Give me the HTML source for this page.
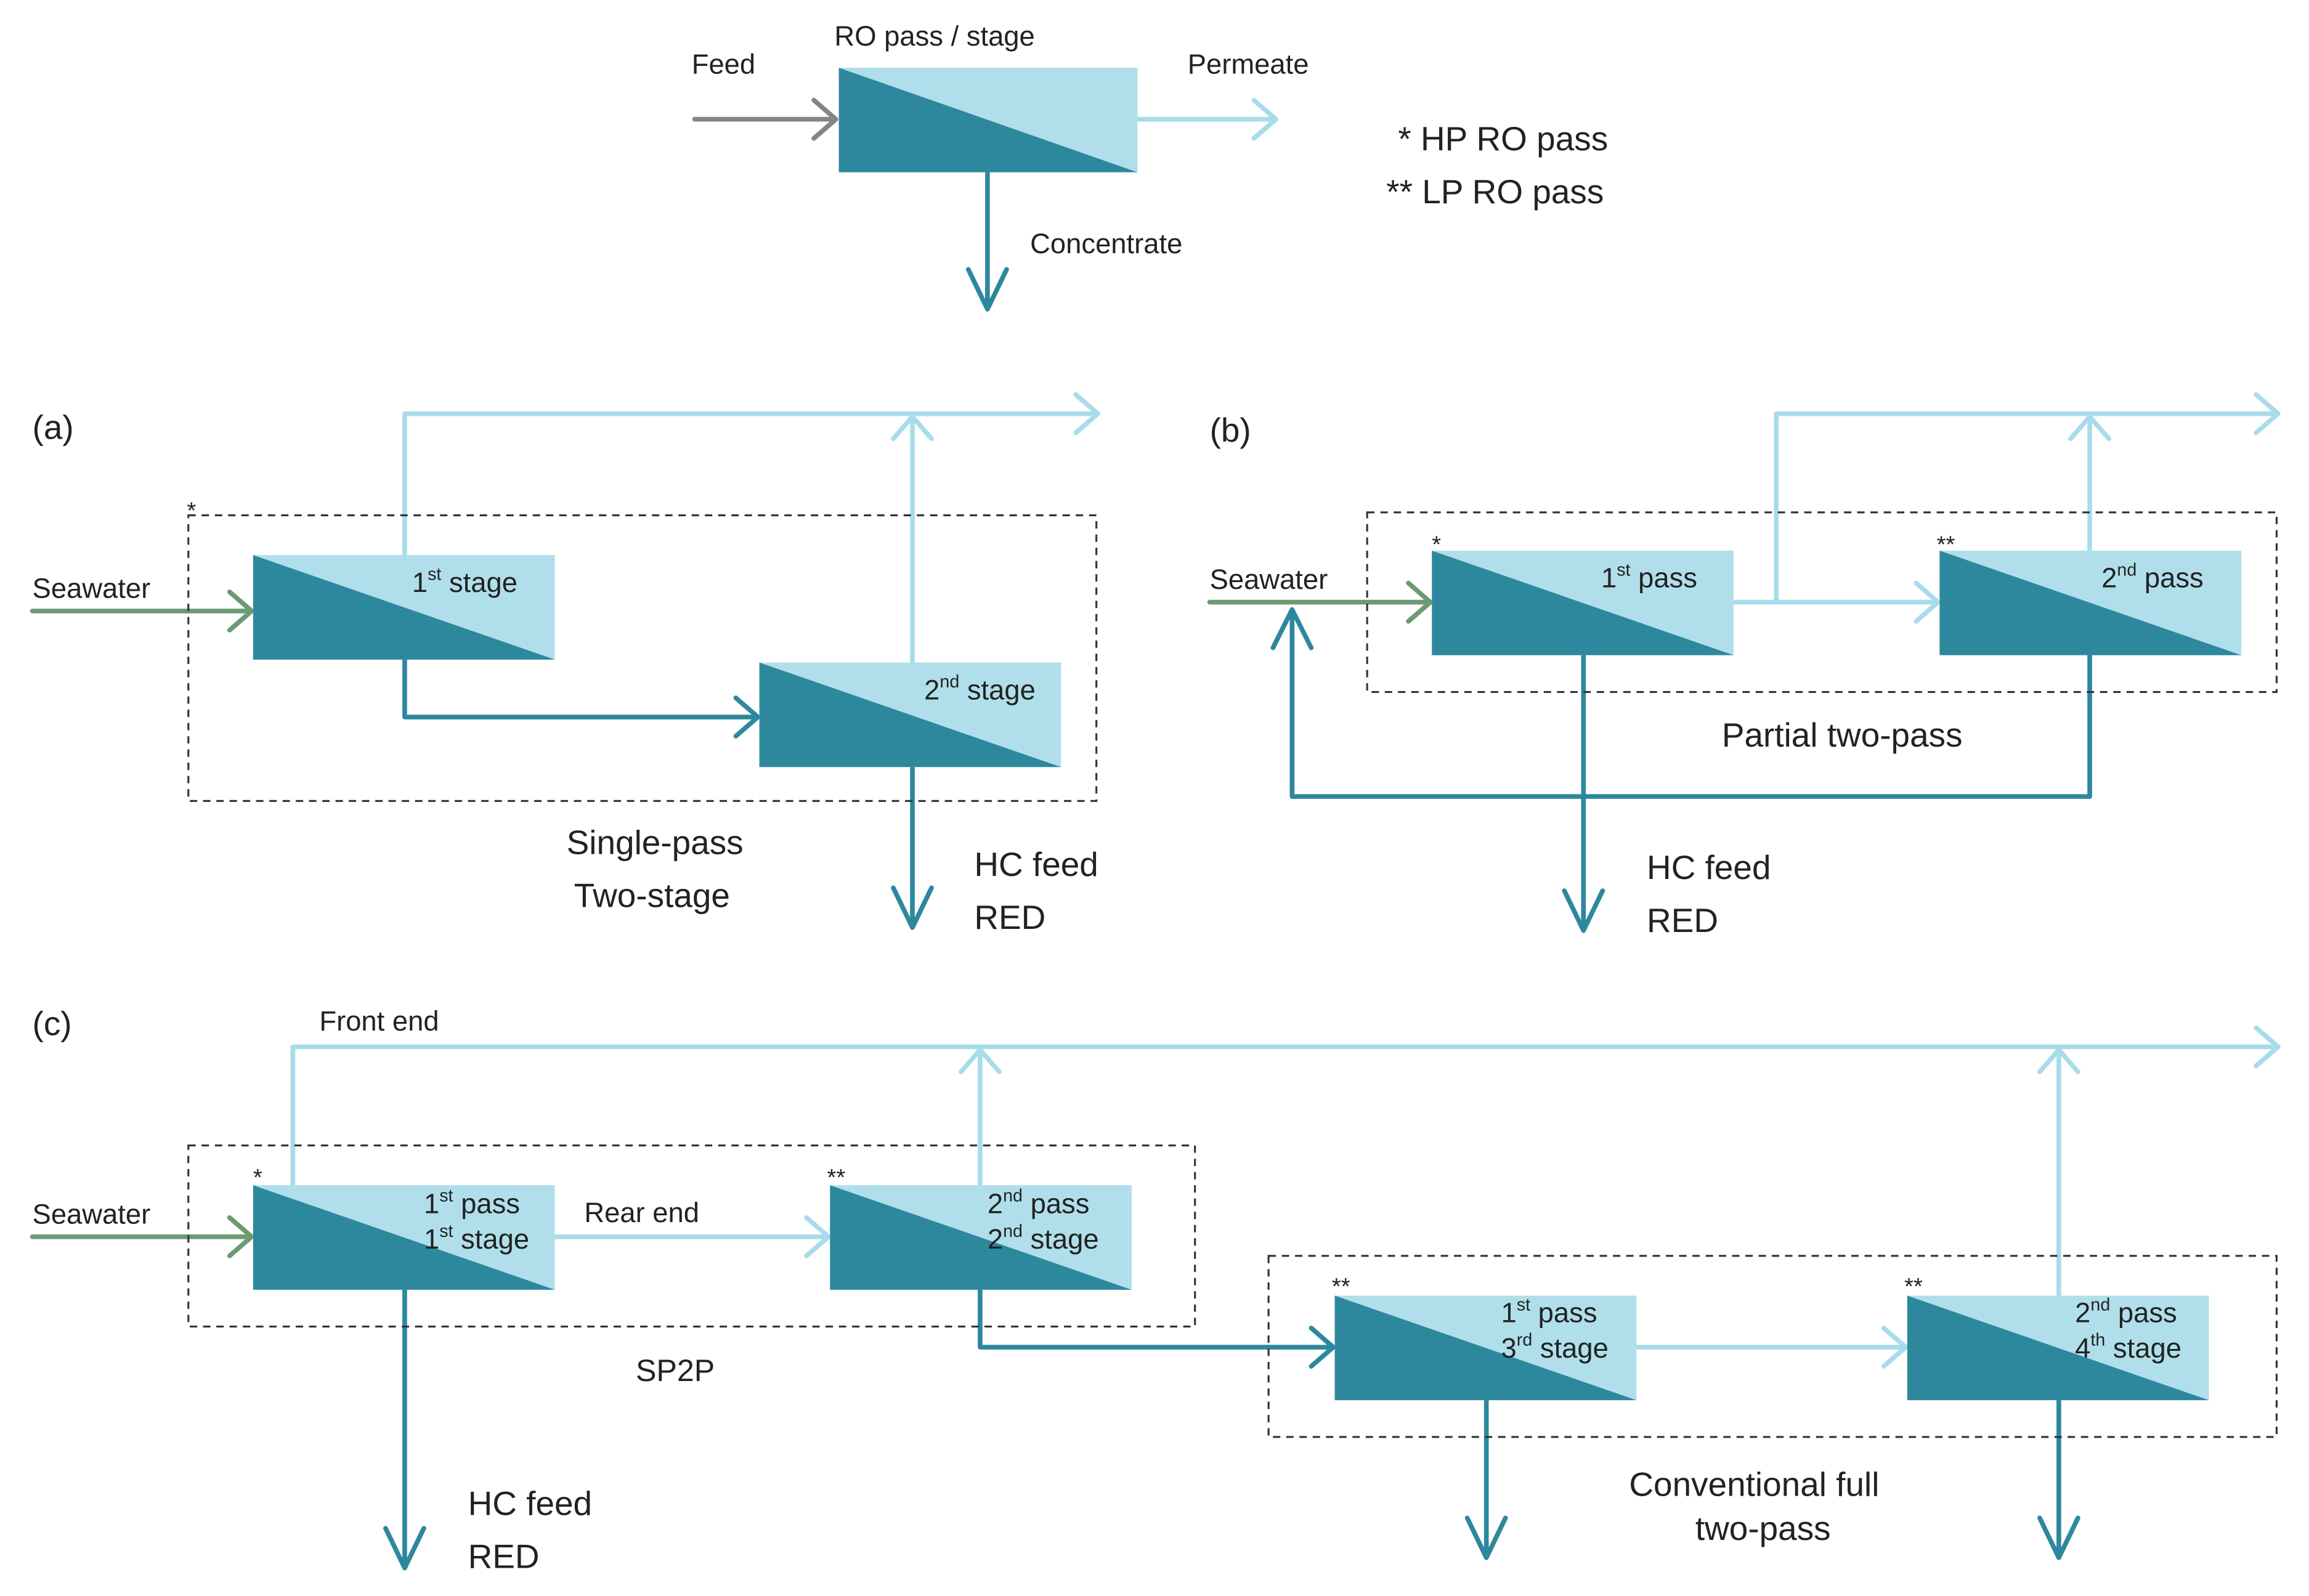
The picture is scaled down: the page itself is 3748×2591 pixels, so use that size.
<!DOCTYPE html>
<html><head><meta charset="utf-8"><style>html,body{margin:0;padding:0;background:#fff}svg{display:block}</style></head>
<body>
<svg width="3748" height="2591" viewBox="0 0 1569 1084" preserveAspectRatio="none" xmlns="http://www.w3.org/2000/svg" font-family="Liberation Sans, sans-serif" fill="#222">
<defs>
<g id="box"><rect x="0" y="0" width="205" height="71" fill="#b0dfeb"/><polygon points="0,0 205,71 0,71" fill="#2d889e"/></g>
</defs>
<g fill="none" stroke-width="3.2" stroke-linecap="round" stroke-linejoin="round">
<path d="M472 81H566M553 68L568 81L553 94" stroke="#858585"/>
<path d="M773 81H866M852 68L867 81L852 94" stroke="#a8dcea"/>
<path d="M671 117V210M658 183L671 210L684 183" stroke="#2d889e"/>
<path d="M275 377V281H745M731 268L746 281L731 294" stroke="#a8dcea"/>
<path d="M620 450V283M607 298L620 283L633 298" stroke="#a8dcea"/>
<path d="M22 415H170M156 402L171 415L156 428" stroke="#6c9a72"/>
<path d="M275 447V487H514M500 474L515 487L500 500" stroke="#2d889e"/>
<path d="M620 520V630M607 603L620 630L633 603" stroke="#2d889e"/>
<path d="M1178 409H1316M1302 396L1317 409L1302 422" stroke="#a8dcea"/>
<path d="M1207 409V281H1547M1533 268L1548 281L1533 294" stroke="#a8dcea"/>
<path d="M1420 374V283M1407 298L1420 283L1433 298" stroke="#a8dcea"/>
<path d="M822 409H971M957 396L972 409L957 422" stroke="#6c9a72"/>
<path d="M1420 444V541H878V414M865 440L878 414L891 440" stroke="#2d889e"/>
<path d="M1076 444V632M1063 605L1076 632L1089 605" stroke="#2d889e"/>
<path d="M199 805V711H1547M1533 698L1548 711L1533 724" stroke="#a8dcea"/>
<path d="M666 805V713M653 728L666 713L679 728" stroke="#a8dcea"/>
<path d="M1399 880V713M1386 728L1399 713L1412 728" stroke="#a8dcea"/>
<path d="M377 840H562M548 827L563 840L548 853" stroke="#a8dcea"/>
<path d="M1111 915H1294M1280 902L1295 915L1280 928" stroke="#a8dcea"/>
<path d="M22 840H170M156 827L171 840L156 853" stroke="#6c9a72"/>
<path d="M666 875V915H905M891 902L906 915L891 928" stroke="#2d889e"/>
<path d="M275 875V1065M262 1038L275 1065L288 1038" stroke="#2d889e"/>
<path d="M1010 950V1058M997 1031L1010 1058L1023 1031" stroke="#2d889e"/>
<path d="M1399 950V1058M1386 1031L1399 1058L1412 1031" stroke="#2d889e"/>
</g>
<use href="#box" transform="translate(570,46) scale(0.99,1)"/>
<use href="#box" x="172" y="377"/><use href="#box" x="516" y="450"/>
<use href="#box" x="973" y="374"/><use href="#box" x="1318" y="374"/>
<use href="#box" x="172" y="805"/><use href="#box" x="564" y="805"/>
<use href="#box" x="907" y="880"/><use href="#box" x="1296" y="880"/>
<g fill="none" stroke="#333" stroke-width="1.3" stroke-dasharray="5,4">
<rect x="128" y="350" width="617" height="194"/>
<rect x="929" y="348" width="618" height="122"/>
<rect x="128" y="778" width="684" height="123"/>
<rect x="862" y="853" width="685" height="123"/>
</g>
<g font-size="19">
<text x="470" y="50">Feed</text>
<text x="567" y="31">RO pass / stage</text>
<text x="807" y="50">Permeate</text>
<text x="700" y="172">Concentrate</text>
</g>
<g font-size="23">
<text x="950" y="102">* HP RO pass</text>
<text x="942" y="138">** LP RO pass</text>
<text x="22" y="298">(a)</text>
<text x="822" y="300">(b)</text>
<text x="22" y="703">(c)</text>
<text x="385" y="580">Single-pass</text>
<text x="390" y="616">Two-stage</text>
<text x="662" y="595">HC feed</text>
<text x="662" y="631">RED</text>
<text x="1170" y="507">Partial two-pass</text>
<text x="1119" y="597">HC feed</text>
<text x="1119" y="633">RED</text>
<text x="318" y="1029">HC feed</text>
<text x="318" y="1065">RED</text>
<text x="1107" y="1016">Conventional full</text>
<text x="1152" y="1046">two-pass</text>
<text x="432" y="938" font-size="21">SP2P</text>
</g>
<g font-size="19">
<text x="22" y="406">Seawater</text>
<text x="822" y="400">Seawater</text>
<text x="22" y="831">Seawater</text>
<text x="217" y="700">Front end</text>
<text x="397" y="830">Rear end</text>
<text x="280" y="402">1<tspan font-size="12" dy="-8">st</tspan><tspan dy="8"> stage</tspan></text>
<text x="628" y="475">2<tspan font-size="12" dy="-8">nd</tspan><tspan dy="8"> stage</tspan></text>
<text x="1088" y="399">1<tspan font-size="12" dy="-8">st</tspan><tspan dy="8"> pass</tspan></text>
<text x="1428" y="399">2<tspan font-size="12" dy="-8">nd</tspan><tspan dy="8"> pass</tspan></text>
<text x="288" y="824">1<tspan font-size="12" dy="-8">st</tspan><tspan dy="8"> pass</tspan></text>
<text x="288" y="848">1<tspan font-size="12" dy="-8">st</tspan><tspan dy="8"> stage</tspan></text>
<text x="671" y="824">2<tspan font-size="12" dy="-8">nd</tspan><tspan dy="8"> pass</tspan></text>
<text x="671" y="848">2<tspan font-size="12" dy="-8">nd</tspan><tspan dy="8"> stage</tspan></text>
<text x="1020" y="898">1<tspan font-size="12" dy="-8">st</tspan><tspan dy="8"> pass</tspan></text>
<text x="1020" y="922">3<tspan font-size="12" dy="-8">rd</tspan><tspan dy="8"> stage</tspan></text>
<text x="1410" y="898">2<tspan font-size="12" dy="-8">nd</tspan><tspan dy="8"> pass</tspan></text>
<text x="1410" y="922">4<tspan font-size="12" dy="-8">th</tspan><tspan dy="8"> stage</tspan></text>
</g>
<g font-size="16">
<text x="127" y="352">*</text>
<text x="973" y="375">*</text>
<text x="1316" y="375">**</text>
<text x="172" y="805">*</text>
<text x="562" y="805">**</text>
<text x="905" y="879">**</text>
<text x="1294" y="879">**</text>
</g>
</svg>
</body></html>
